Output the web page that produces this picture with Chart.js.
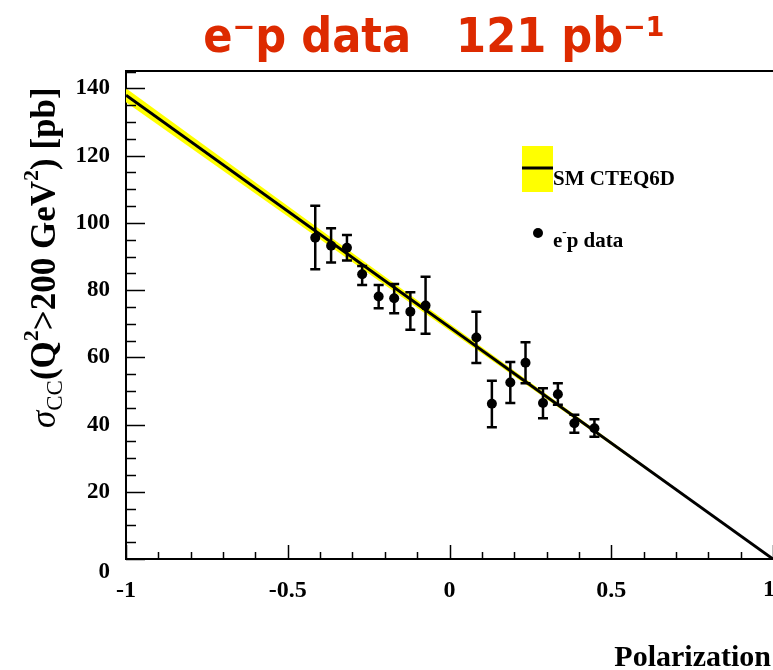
<!DOCTYPE html>
<html>
<head>
<meta charset="utf-8">
<script src="https://cdn.jsdelivr.net/npm/chart.js@4.4.1/dist/chart.umd.min.js"></script>
<style>
  html, body { margin: 0; padding: 0; background: #fff; }
  #wrap { width: 773px; height: 670px; position: relative; }
</style>
</head>
<body>
<div id="wrap"><canvas id="sigmaChart" width="773" height="670"></canvas></div>
<script>
// axis ticks
const xTickVals = [-1, -0.5, 0, 0.5, 1];
const xTickLabels = ['-1', '-0.5', '0', '0.5', '1'];
const yTickVals = [0, 20, 40, 60, 80, 100, 120, 140];

const polarization = [-0.415, -0.366, -0.317, -0.270, -0.219, -0.171, -0.121, -0.074,
    0.083, 0.131, 0.188, 0.235, 0.289, 0.335, 0.386, 0.448];
const sigmaCC = [95.6, 93.2, 92.6, 84.7, 78.1, 77.6, 73.6, 75.4,
    65.9, 46.2, 52.5, 58.4, 46.4, 49.0, 40.4, 38.9];
const sigmaHi = [105.1, 98.4, 96.4, 87.2, 81.5, 81.8, 79.4, 84.0,
    73.6, 53.0, 58.6, 64.5, 50.8, 52.3, 42.9, 41.6];
const sigmaLo = [86.2, 88.2, 88.8, 81.5, 74.6, 73.1, 68.2, 67.0,
    58.3, 39.2, 46.4, 52.3, 41.9, 45.9, 37.6, 36.4];

// SM CTEQ6D expectation and its band
const smP = [-1, 1];
const smSigma = [138.0, 0];
const smBandHi = [140.1, 0];
const smBandLo = [135.9, 0];

const SERIF = '"Liberation Serif", "DejaVu Serif", serif';

function pts(xs, ys) {
    return xs.map((x, i) => ({ x: x, y: ys[i] }));
}

const decorPlugin = {
    id: 'decor',
    afterDatasetsDraw(chart) {
        const ctx = chart.ctx;
        const xs = chart.scales.x;
        const ys = chart.scales.y;

        // error bars
        ctx.save();
        ctx.strokeStyle = '#000';
        ctx.lineWidth = 2.5;
        for (let i = 0; i < polarization.length; i++) {
            const px = xs.getPixelForValue(polarization[i]);
            const top = ys.getPixelForValue(sigmaHi[i]);
            const bot = ys.getPixelForValue(sigmaLo[i]);
            ctx.beginPath();
            ctx.moveTo(px, top); ctx.lineTo(px, bot);
            ctx.moveTo(px - 5, top); ctx.lineTo(px + 5, top);
            ctx.moveTo(px - 5, bot); ctx.lineTo(px + 5, bot);
            ctx.stroke();
        }
        ctx.restore();
    },
    afterDraw(chart) {
        const ctx = chart.ctx;
        const xs = chart.scales.x;
        const ys = chart.scales.y;
        const area = chart.chartArea;
        ctx.save();
        ctx.strokeStyle = '#000';

        // frame top
        ctx.lineWidth = 2;
        ctx.beginPath();
        ctx.moveTo(area.left, area.top); ctx.lineTo(area.right, area.top);
        ctx.stroke();

        // inward ticks, y axis
        ctx.lineWidth = 1.5;
        for (let i = 0; i <= 29; i++) {
            const v = i * 5;
            const py = Math.round(ys.getPixelForValue(v)) + 0.5;
            const len = (v % 20 === 0) ? 19 : 10;
            ctx.beginPath();
            ctx.moveTo(area.left, py); ctx.lineTo(area.left + len, py);
            ctx.stroke();
        }
        // inward ticks, x axis
        for (let i = 0; i <= 20; i++) {
            const v = -1 + i * 0.1;
            const px = Math.round(xs.getPixelForValue(v)) + 0.5;
            const len = (i % 5 === 0) ? 14 : 7;
            ctx.beginPath();
            ctx.moveTo(px, area.bottom); ctx.lineTo(px, area.bottom - len);
            ctx.stroke();
        }

        // y label "0" sits a bit below the axis, x label "1" sits on the canvas edge
        ctx.fillStyle = '#000';
        ctx.font = 'bold 23px ' + SERIF;
        ctx.textAlign = 'right';
        ctx.textBaseline = 'middle';
        ctx.fillText('0', 110, 572);
        ctx.font = 'bold 24px ' + SERIF;
        ctx.textAlign = 'right';
        ctx.fillText(xTickLabels[xTickLabels.length - 1], xs.getPixelForValue(1) + 2, 590);

        // title
        ctx.fillStyle = '#dd2a00';
        ctx.font = 'bold 48px "DejaVu Sans Condensed", "DejaVu Sans", sans-serif';
        ctx.textAlign = 'center';
        ctx.textBaseline = 'alphabetic';
        ctx.fillText('e\u207Bp data   121 pb\u207B\u00B9', 434, 52);

        // x title
        ctx.fillStyle = '#000';
        ctx.font = 'bold 30px ' + SERIF;
        ctx.textAlign = 'right';
        ctx.fillText('Polarization', 771, 666);

        // y title, rotated
        ctx.save();
        ctx.translate(55, 428);
        ctx.rotate(-Math.PI / 2);
        ctx.textAlign = 'left';
        ctx.textBaseline = 'alphabetic';
        let cx = 0;
        const big = 'bold 35px ' + SERIF;
        const sup = 'bold 22px ' + SERIF;
        const put = (txt, font, dy) => {
            ctx.font = font;
            ctx.fillText(txt, cx, dy);
            cx += ctx.measureText(txt).width;
        };
        put('\u03C3', 'italic 35px ' + SERIF, 0);
        put('CC', '23px ' + SERIF, 7);
        put('(Q', big, 0);
        put('2', sup, -17);
        put('>200 GeV', big, 0);
        put('2', sup, -17);
        put(') [pb]', big, 0);
        ctx.restore();

        // legend
        ctx.fillStyle = '#ffff00';
        ctx.fillRect(522, 146, 31, 46);
        ctx.strokeStyle = '#000';
        ctx.lineWidth = 3;
        ctx.beginPath();
        ctx.moveTo(522, 168); ctx.lineTo(553, 168);
        ctx.stroke();
        ctx.fillStyle = '#000';
        ctx.font = 'bold 21px ' + SERIF;
        ctx.textAlign = 'left';
        ctx.fillText('SM CTEQ6D', 553, 185);

        ctx.beginPath();
        ctx.arc(538, 233, 5, 0, Math.PI * 2);
        ctx.fill();
        let lx = 553;
        ctx.fillText('e', lx, 247);
        lx += ctx.measureText('e').width;
        ctx.font = 'bold 13px ' + SERIF;
        ctx.fillText('-', lx, 236);
        lx += ctx.measureText('-').width;
        ctx.font = 'bold 21px ' + SERIF;
        ctx.fillText('p data', lx, 247);

        ctx.restore();
    }
};

const ctx = document.getElementById('sigmaChart').getContext('2d');
new Chart(ctx, {
    type: 'scatter',
    data: {
        datasets: [
            {
                label: 'band hi',
                data: pts(smP, smBandHi),
                showLine: true,
                borderWidth: 0,
                pointRadius: 0,
                backgroundColor: '#ffff00',
                fill: 1,
                order: 3
            },
            {
                label: 'band lo',
                data: pts(smP, smBandLo),
                showLine: true,
                borderWidth: 0,
                pointRadius: 0,
                fill: false,
                order: 3
            },
            {
                label: 'SM CTEQ6D',
                data: pts(smP, smSigma),
                showLine: true,
                borderColor: '#000',
                borderWidth: 3,
                pointRadius: 0,
                fill: false,
                order: 2
            },
            {
                label: 'e-p data',
                data: pts(polarization, sigmaCC),
                showLine: false,
                pointRadius: 5,
                pointBackgroundColor: '#000',
                pointBorderColor: '#000',
                pointBorderWidth: 0,
                order: 1
            }
        ]
    },
    options: {
        responsive: false,
        animation: false,
        events: [],
        layout: { autoPadding: false, padding: { top: 71, left: 0, right: 0, bottom: 0 } },
        plugins: {
            legend: { display: false },
            title: { display: false },
            tooltip: { enabled: false }
        },
        scales: {
            x: {
                type: 'linear',
                min: -1,
                max: 1,
                afterFit: s => {
                    s.height = 111;
                    s.paddingLeft = 0;
                    s.paddingRight = 0;
                },
                afterBuildTicks: s => { s.ticks = xTickVals.map(v => ({ value: v })); },
                grid: { display: false, drawTicks: false },
                border: { display: true, color: '#000', width: 2 },
                ticks: {
                    padding: 17,
                    autoSkip: false,
                    maxRotation: 0,
                    color: '#000',
                    font: { family: SERIF, size: 24, weight: 'bold' },
                    // the last label is drawn by the plugin so it does not pad the chart area
                    callback: (v) => {
                        const i = xTickVals.indexOf(v);
                        return (i >= 0 && i < xTickVals.length - 1) ? xTickLabels[i] : '';
                    }
                }
            },
            y: {
                type: 'linear',
                min: 0,
                max: 145.2,
                afterFit: s => {
                    s.width = 126;
                    s.paddingTop = 0;
                    s.paddingBottom = 0;
                },
                afterBuildTicks: s => { s.ticks = yTickVals.map(v => ({ value: v })); },
                grid: { display: false, drawTicks: false },
                border: { display: true, color: '#000', width: 2 },
                ticks: {
                    padding: 16,
                    color: '#000',
                    font: { family: SERIF, size: 23, weight: 'bold' },
                    callback: (v) => v === 0 ? '' : String(v)
                }
            }
        }
    },
    plugins: [decorPlugin]
});
</script>
</body>
</html>
